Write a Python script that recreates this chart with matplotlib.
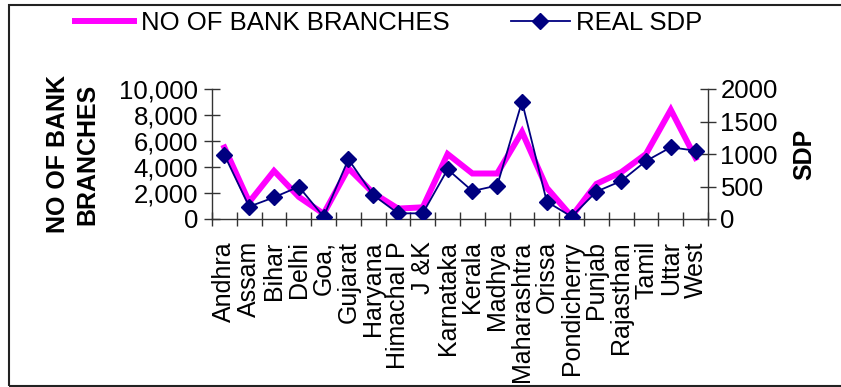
import numpy as np
import matplotlib
matplotlib.use('Agg')
import matplotlib.pyplot as plt
from matplotlib.patches import Rectangle
from matplotlib.ticker import FuncFormatter, MultipleLocator

plt.rcParams['font.family'] = ['Liberation Sans', 'DejaVu Sans']

states = ['Andhra', 'Assam', 'Bihar', 'Delhi', 'Goa,', 'Gujarat', 'Haryana',
          'Himachal P', 'J &K', 'Karnataka', 'Kerala', 'Madhya', 'Maharashtra',
          'Orissa', 'Pondicherry', 'Punjab', 'Rajasthan', 'Tamil', 'Uttar', 'West']
branches = [5500, 1300, 3700, 1700, 400, 3900, 2000, 800, 900, 5000,
            3500, 3500, 6700, 2400, 200, 2700, 3600, 5000, 8400, 4700]
real_sdp = [985, 190, 333, 497, 36, 918, 369, 87, 87, 764,
            430, 515, 1805, 267, 36, 421, 585, 892, 1103, 1051]

W, H = 841, 387
fig = plt.figure(figsize=(W / 100, H / 100), dpi=100)
ax = fig.add_axes([212 / W, 1 - 219 / H, (708 - 212) / W, (219 - 89) / H])
ax2 = ax.twinx()

x = np.arange(len(states))
l1, = ax.plot(x, branches, color='#FF00FF', lw=4.3, solid_joinstyle='miter',
              label='NO OF BANK BRANCHES')
l2, = ax2.plot(x, real_sdp, color='#000080', lw=1.3, marker='D', ms=8.5,
               label='REAL SDP')

ax.set_xlim(-0.5, len(states) - 0.5)
ax.set_ylim(0, 10000)
ax2.set_ylim(0, 2000)

for a in (ax, ax2):
    a.set_facecolor('none')
    a.spines['top'].set_visible(False)
    for s in a.spines.values():
        s.set_color('#333333')
        s.set_linewidth(1.0)
ax2.spines['left'].set_visible(False)
ax2.spines['bottom'].set_visible(False)
ax.spines['right'].set_visible(False)

ax.yaxis.set_major_locator(MultipleLocator(2000))
ax.yaxis.set_major_formatter(FuncFormatter(lambda v, p: f'{int(v):,}'))
ax2.yaxis.set_major_locator(MultipleLocator(500))

ax.set_xticks(x)
ax.set_xticklabels(states, rotation=90, va='top', ha='center')
ax.set_xticks(np.arange(-0.5, len(states)), minor=True)
ax.tick_params(axis='x', which='major', length=0, pad=16, labelsize=18)
ax.tick_params(axis='x', which='minor', direction='inout', length=10.5,
               width=1, color='#333333')
ax.tick_params(axis='y', direction='inout', length=12, width=1,
               color='#333333', labelsize=18.5, pad=4)
ax2.tick_params(axis='y', direction='inout', length=12, width=1,
                color='#333333', labelsize=18.5, pad=3)

ax.set_ylabel('NO OF BANK\nBRANCHES', fontsize=18, fontweight='bold',
              labelpad=14, linespacing=1.3)
ax2.set_ylabel('SDP', fontsize=18, fontweight='bold', labelpad=10)

fig.legend(handles=[l1, l2], loc='center left', ncol=2, frameon=False,
           bbox_to_anchor=(75 / W, 1 - 23 / H), borderpad=0, borderaxespad=0,
           fontsize=18.5, handlelength=2.3, handletextpad=0.25,
           columnspacing=2.4)

# outer chart border
fig.patches.append(Rectangle((9 / W, 1 - 386 / H), 1.2, (386 - 5) / H,
                             transform=fig.transFigure, fill=False,
                             edgecolor='#222222', lw=1.5))

fig.savefig('out.png', dpi=100)
